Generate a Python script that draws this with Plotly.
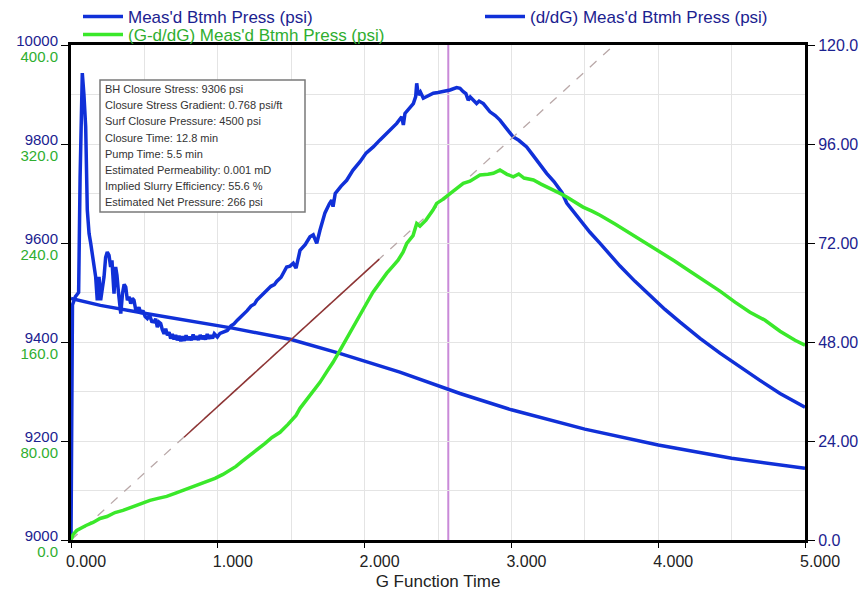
import plotly.graph_objects as go

# G-function time (x) and measured bottomhole pressure, psi (left axis)
press_g = [0.000, 0.200, 0.500, 0.800, 1.100, 1.500, 1.830, 2.240, 2.650, 3.000,
           3.500, 4.000, 4.500, 5.000]
press_psi = [9488, 9474, 9458, 9443, 9428, 9405, 9377, 9339, 9296, 9263,
             9224, 9192, 9165, 9145]

# d/dG of measured bottomhole pressure (right axis)
ddg_g = [0.000, 0.006, 0.010, 0.030, 0.052, 0.062, 0.077, 0.088, 0.100, 0.111,
         0.123, 0.134, 0.145, 0.157, 0.168, 0.179, 0.191, 0.202, 0.213, 0.225,
         0.236, 0.247, 0.259, 0.270, 0.279, 0.293, 0.304, 0.313, 0.324, 0.339,
         0.351, 0.362, 0.373, 0.384, 0.395, 0.407, 0.418, 0.429, 0.440, 0.452,
         0.463, 0.475, 0.490, 0.505, 0.520, 0.535, 0.550, 0.565, 0.577, 0.588,
         0.600, 0.611, 0.622, 0.634, 0.645, 0.657, 0.668, 0.679, 0.690, 0.702,
         0.713, 0.724, 0.736, 0.748, 0.760, 0.772, 0.784, 0.796, 0.808, 0.820,
         0.832, 0.844, 0.856, 0.868, 0.880, 0.892, 0.904, 0.916, 0.928, 0.940,
         0.952, 0.964, 0.976, 0.997, 1.015, 1.040, 1.065, 1.090, 1.110, 1.133,
         1.155, 1.179, 1.200, 1.226, 1.250, 1.265, 1.294, 1.320, 1.333, 1.362,
         1.385, 1.401, 1.431, 1.469, 1.492, 1.514, 1.533, 1.560, 1.595, 1.628,
         1.650, 1.674, 1.696, 1.730, 1.760, 1.776, 1.785, 1.800, 1.840, 1.878,
         1.920, 1.969, 2.010, 2.059, 2.105, 2.151, 2.190, 2.219, 2.253, 2.264,
         2.275, 2.300, 2.332, 2.348, 2.355, 2.366, 2.380, 2.400, 2.430, 2.468,
         2.500, 2.536, 2.582, 2.627, 2.650, 2.672, 2.690, 2.706, 2.720, 2.763,
         2.780, 2.809, 2.830, 2.854, 2.890, 2.922, 2.970, 3.013, 3.050, 3.104,
         3.140, 3.172, 3.205, 3.240, 3.290, 3.331, 3.345, 3.377, 3.420, 3.467,
         3.535, 3.604, 3.672, 3.740, 3.842, 3.944, 4.046, 4.149, 4.285, 4.421,
         4.557, 4.693, 4.830, 4.932, 5.000]
ddg_val = [0.0, 30.0, 57.0, 59.0, 60.0, 88.0, 113.2, 108.0, 100.2, 80.0,
           74.3, 72.0, 69.4, 66.5, 63.8, 58.1, 63.8, 58.1, 61.0, 63.8,
           68.5, 69.8, 69.0, 66.2, 67.8, 59.7, 66.2, 64.2, 59.8, 54.9,
           59.8, 62.0, 61.3, 58.1, 59.0, 57.3, 58.6, 58.1, 56.0, 55.7,
           56.4, 54.9, 55.6, 54.2, 53.7, 54.5, 53.0, 52.9, 53.6, 51.6,
           52.8, 52.5, 51.0, 50.0, 51.2, 49.6, 50.4, 48.8, 49.9, 48.6,
           49.7, 48.4, 49.5, 48.2, 49.4, 48.3, 49.6, 48.5, 49.3, 48.4,
           49.8, 48.6, 49.4, 48.5, 49.7, 48.7, 49.5, 48.6, 49.9, 48.8,
           49.6, 48.9, 50.0, 49.2, 50.1, 50.4, 50.8, 51.9, 52.4, 53.3,
           54.0, 54.9, 55.6, 56.7, 57.2, 58.1, 59.1, 59.8, 60.5, 61.5,
           61.9, 62.7, 63.7, 66.2, 66.4, 67.1, 65.9, 70.2, 71.6, 73.5,
           74.0, 71.9, 75.1, 79.3, 81.5, 82.4, 80.8, 84.0, 85.8, 87.2,
           89.6, 91.7, 93.8, 95.3, 97.0, 98.6, 100.0, 101.0, 102.6, 100.6,
           103.4, 104.4, 105.8, 107.5, 110.7, 107.9, 108.6, 107.1, 107.6, 108.3,
           108.5, 108.7, 109.1, 109.7, 109.5, 108.7, 108.2, 106.6, 107.4, 105.8,
           106.4, 105.8, 104.9, 103.8, 102.9, 101.8, 99.6, 97.7, 96.9, 95.3,
           93.6, 92.1, 90.5, 88.9, 86.9, 84.8, 84.2, 81.7, 79.7, 77.5,
           74.6, 71.9, 69.0, 66.4, 62.7, 59.3, 55.9, 52.8, 48.9, 45.3,
           41.9, 38.7, 35.5, 33.6, 32.2]

# G*dP/dG of measured bottomhole pressure (second left axis)
gdp_g = [0.000, 0.014, 0.039, 0.061, 0.102, 0.150, 0.198, 0.245, 0.300, 0.354,
         0.422, 0.484, 0.538, 0.593, 0.652, 0.708, 0.763, 0.824, 0.879, 0.933,
         0.981, 1.035, 1.083, 1.124, 1.165, 1.219, 1.274, 1.322, 1.369, 1.424,
         1.478, 1.533, 1.560, 1.601, 1.649, 1.696, 1.744, 1.785, 1.832, 1.880,
         1.921, 1.969, 2.010, 2.057, 2.105, 2.151, 2.193, 2.228, 2.262, 2.287,
         2.330, 2.355, 2.377, 2.418, 2.466, 2.491, 2.530, 2.582, 2.630, 2.672,
         2.718, 2.786, 2.840, 2.877, 2.922, 2.970, 3.013, 3.050, 3.086, 3.150,
         3.202, 3.263, 3.331, 3.377, 3.433, 3.488, 3.549, 3.604, 3.706, 3.808,
         3.910, 4.012, 4.114, 4.216, 4.319, 4.421, 4.523, 4.625, 4.728, 4.830,
         4.932, 5.000]
gdp_val = [0.0, 4.4, 7.7, 9.3, 11.7, 14.2, 17.4, 19.0, 22.2, 23.9,
           27.1, 29.5, 32.0, 33.6, 35.2, 37.6, 40.0, 42.5, 44.9, 47.3,
           49.8, 53.0, 56.2, 59.5, 63.5, 68.4, 73.2, 78.1, 82.9, 87.0,
           93.4, 100.7, 106.4, 112.9, 120.1, 127.4, 136.3, 143.6, 153.3, 163.0,
           171.9, 181.6, 190.5, 200.2, 208.3, 215.6, 221.3, 226.1, 232.6, 239.6,
           246.0, 255.8, 253.6, 258.5, 266.6, 272.0, 275.0, 280.1, 284.0, 288.2,
           290.0, 294.9, 295.5, 296.3, 298.9, 295.5, 293.5, 295.8, 292.5, 290.9,
           287.6, 284.4, 280.1, 277.1, 273.1, 269.0, 265.8, 262.5, 255.3, 248.0,
           240.7, 233.4, 225.3, 217.2, 209.1, 201.1, 192.2, 184.1, 177.6, 168.7,
           161.4, 157.4]

# Straight-line tangent through the origin, and its fitted section
tangent_g = [0.0, 3.70]
tangent_val = [0.0, 400.0]
fit_g = [0.77, 2.10]
fit_val = [83.0, 227.0]

closure_g = 2.57

# Axis ticks
x_ticks = [0, 1, 2, 3, 4, 5]
x_ticktext = ["0.000", "1.000", "2.000", "3.000", "4.000", "5.000"]
p_ticks = [9000, 9200, 9400, 9600, 9800, 10000]
p_ticktext = ["9000", "9200", "9400", "9600", "9800", "10000"]
g_ticks = [0, 80, 160, 240, 320, 400]
g_ticktext = ["0.0", "80.00", "160.0", "240.0", "320.0", "400.0"]
d_ticks = [0, 24, 48, 72, 96, 120]
d_ticktext = ["0.0", "24.00", "48.00", "72.00", "96.00", "120.0"]

summary_lines = [
    "BH Closure Stress: 9306 psi",
    "Closure Stress Gradient: 0.768 psi/ft",
    "Surf Closure Pressure: 4500 psi",
    "Closure Time: 12.8 min",
    "Pump Time: 5.5 min",
    "Estimated Permeability: 0.001 mD",
    "Implied Slurry Efficiency: 55.6 %",
    "Estimated Net Pressure: 266 psi",
]

FONT = "Liberation Sans, Arial, sans-serif"
NAVY = "#1b2290"
LABEL_GREEN = "#2fae2f"
BLUE = "#1030d8"
GREEN = "#3ae82a"
GRID = "#e4e4e4"

fig = go.Figure()

fig.add_trace(go.Scatter(
    x=press_g, y=press_psi, mode="lines", name="Meas'd Btmh Press (psi)",
    line=dict(color=BLUE, width=3.5), yaxis="y", legend="legend"))

fig.add_trace(go.Scatter(
    x=ddg_g, y=ddg_val, mode="lines", name="(d/dG) Meas'd Btmh Press (psi)",
    line=dict(color=BLUE, width=3.5), yaxis="y2", legend="legend2"))

fig.add_trace(go.Scatter(
    x=tangent_g, y=tangent_val, mode="lines", showlegend=False,
    line=dict(color="#b9a8a8", width=1.3, dash="dash"), yaxis="y3"))

fig.add_trace(go.Scatter(
    x=fit_g, y=fit_val, mode="lines", showlegend=False,
    line=dict(color="#8e3434", width=1.5), yaxis="y3"))

fig.add_trace(go.Scatter(
    x=gdp_g, y=gdp_val, mode="lines", name="(G-d/dG) Meas'd Btmh Press (psi)",
    line=dict(color=GREEN, width=3.5), yaxis="y3", legend="legend3"))

# Closure marker
fig.add_shape(type="line", xref="x", yref="paper", x0=closure_g, x1=closure_g,
              y0=0, y1=1, line=dict(color="#c98ad8", width=2), layer="between")

# Summary box
PLOT_L, PLOT_W, PLOT_B, PLOT_H = 71, 734, 540, 495


def px(xp):
    return (xp - PLOT_L) / PLOT_W


def py(yp):
    return (PLOT_B - yp) / PLOT_H


fig.add_shape(type="rect", xref="paper", yref="paper",
              x0=px(100), x1=px(305), y0=py(212), y1=py(80),
              line=dict(color="#7a7a7a", width=1.5), fillcolor="white",
              layer="above")
for i, line in enumerate(summary_lines):
    fig.add_annotation(xref="paper", yref="paper", x=px(103), y=py(89 + 16.2 * i),
                       text=line, showarrow=False, xanchor="left", yanchor="middle",
                       font=dict(family=FONT, size=11, color="#333333"))

legend_common = dict(bgcolor="rgba(0,0,0,0)", itemwidth=40, xanchor="left",
                     yanchor="middle", borderwidth=0)

fig.update_layout(
    width=859, height=596,
    margin=dict(l=71, r=54, t=45, b=56, autoexpand=False),
    plot_bgcolor="white", paper_bgcolor="white",
    font=dict(family=FONT, size=16, color="#222222"),
    xaxis=dict(
        range=[0, 5], tickvals=x_ticks, ticktext=x_ticktext,
        ticklabelshift=15, tickfont=dict(size=16, color="#222222"),
        showgrid=True, gridcolor=GRID, gridwidth=1,
        minor=dict(dtick=0.5, showgrid=True, gridcolor=GRID),
        showline=True, linecolor="black", linewidth=3, mirror=True,
        ticks="outside", ticklen=5, tickcolor="black", zeroline=False,
        title=dict(text="G Function Time", font=dict(size=17, color="#222222"),
                   standoff=6),
    ),
    yaxis=dict(
        range=[9000, 10000], tickvals=p_ticks, ticktext=p_ticktext,
        tickfont=dict(size=15, color=NAVY), ticklabelshift=-4,
        showgrid=True, gridcolor=GRID, gridwidth=1,
        minor=dict(dtick=100, showgrid=True, gridcolor=GRID),
        showline=True, linecolor="black", linewidth=3,
        ticks="outside", ticklen=7, tickcolor="black", zeroline=False,
    ),
    yaxis2=dict(
        range=[0, 120], tickvals=d_ticks, ticktext=d_ticktext,
        overlaying="y", side="right", anchor="x",
        tickfont=dict(size=16, color=NAVY),
        showgrid=False, showline=True, linecolor="black", linewidth=3,
        ticks="outside", ticklen=7, tickcolor="black", zeroline=False,
    ),
    yaxis3=dict(
        range=[0, 400], tickvals=g_ticks, ticktext=g_ticktext,
        overlaying="y", side="left", anchor="x",
        tickfont=dict(size=15, color=LABEL_GREEN), ticklabelshift=12,
        showgrid=False, showline=False, zeroline=False,
        ticks="outside", ticklen=9, tickcolor="rgba(0,0,0,0)",
    ),
    legend=dict(x=px(78), y=py(17), font=dict(size=17, color=NAVY), **legend_common),
    legend3=dict(x=px(78), y=py(35), font=dict(size=17, color=LABEL_GREEN), **legend_common),
    legend2=dict(x=px(480), y=py(17), font=dict(size=17, color=NAVY), **legend_common),
)

fig.write_html("out.html")
